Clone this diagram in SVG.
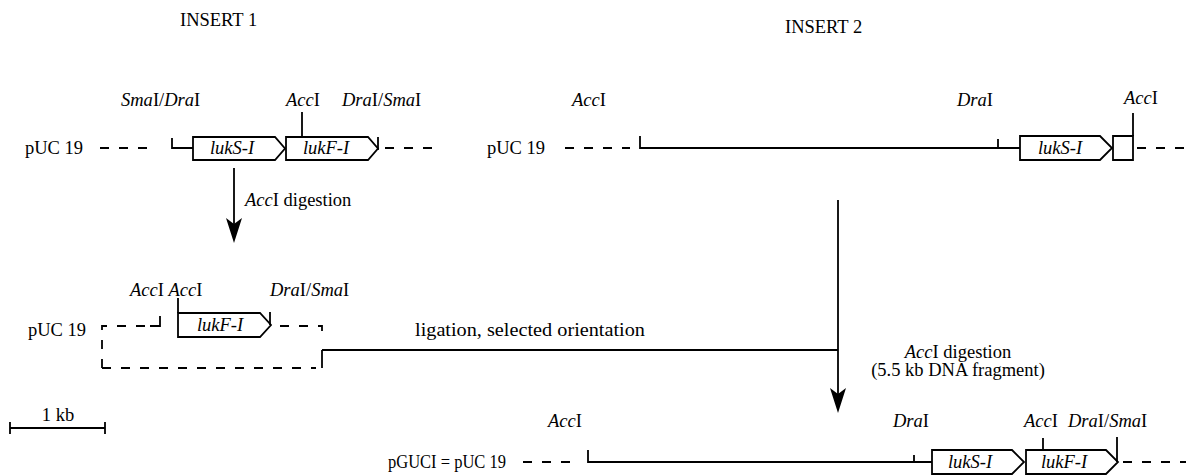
<svg xmlns="http://www.w3.org/2000/svg" width="1186" height="476" viewBox="0 0 1186 476" font-family="'Liberation Serif','Times New Roman',serif">
<defs>
<style>
text{font-family:'Liberation Serif','Times New Roman',serif;font-size:18.5px;fill:#000}
.i{font-style:italic}
.ln{fill:none;stroke:#000;stroke-width:1.8}
.ds{fill:none;stroke:#000;stroke-width:1.8;stroke-dasharray:9 10}
.gene{fill:#fff;stroke:#000;stroke-width:1.8;stroke-linejoin:miter}
.g{font-style:italic;text-anchor:middle}
.head{fill:#000;stroke:none}
</style>
</defs>

<g id="titles">
<text x="180" y="26">INSERT 1</text>
<text x="785" y="33">INSERT 2</text>
</g>

<g id="insert1">
<text x="121" y="106"><tspan class="i">Sma</tspan>I/<tspan class="i">Dra</tspan>I</text>
<text x="286" y="106"><tspan class="i">Acc</tspan>I</text>
<text x="342" y="106"><tspan class="i">Dra</tspan>I/<tspan class="i">Sma</tspan>I</text>
<text x="25" y="154">pUC 19</text>
<path class="ds" d="M100,148 H156"/>
<path class="ln" d="M172,138 V148 H193"/>
<path class="gene" d="M193,137 H275 L285,148.5 L275,160 H193 Z"/>
<path class="gene" d="M286,137 H368 L378,148.5 L368,160 H286 Z"/>
<path class="ln" d="M302,112 V137 M378,137 V150"/>
<path class="ds" d="M385,148 H440"/>
<text class="g" x="232" y="154">lukS-I</text>
<text class="g" x="326" y="154">lukF-I</text>
</g>

<g id="insert2">
<text x="572" y="106"><tspan class="i">Acc</tspan>I</text>
<text x="957" y="106"><tspan class="i">Dra</tspan>I</text>
<text x="1124" y="104"><tspan class="i">Acc</tspan>I</text>
<text x="487" y="154">pUC 19</text>
<path class="ds" d="M565,148 H630"/>
<path class="ln" d="M640,136 V148 H1020 M998,139 V148"/>
<path class="gene" d="M1020,136 H1100 L1112,148 L1100,160 H1020 Z"/>
<path class="gene" d="M1113,136 H1133 V160 H1113 Z"/>
<path class="ln" d="M1133,113 V136"/>
<path class="ds" d="M1137,148 H1186"/>
<text class="g" x="1060" y="154">lukS-I</text>
</g>

<g id="insert1-digested">
<text x="130" y="296"><tspan class="i">Acc</tspan>I <tspan class="i">Acc</tspan>I</text>
<text x="270" y="296"><tspan class="i">Dra</tspan>I/<tspan class="i">Sma</tspan>I</text>
<text x="28" y="336">pUC 19</text>
<path class="ds" d="M102,368 V326 H150"/>
<path class="ln" d="M150,326 H160 V316"/>
<path class="gene" d="M178,313 H260 L271,325 L260,337 H178 Z"/>
<path class="ln" d="M178,298 V313 M270,312 V325"/>
<path class="ds" d="M280,326 H322 V340"/>
<path class="ds" d="M102,368 H316"/>
<path class="ln" d="M322,368 V350"/>
<text class="g" x="220" y="331">lukF-I</text>
</g>

<g id="pGUCI">
<text x="548" y="427"><tspan class="i">Acc</tspan>I</text>
<text x="893" y="427"><tspan class="i">Dra</tspan>I</text>
<text x="1024" y="427"><tspan class="i">Acc</tspan>I</text>
<text x="1068" y="427"><tspan class="i">Dra</tspan>I/<tspan class="i">Sma</tspan>I</text>
<text x="388" y="468" textLength="118" lengthAdjust="spacingAndGlyphs">pGUCI = pUC 19</text>
<path class="ds" d="M523,462 H575"/>
<path class="ln" d="M588,450 V462 H932 M914,455 V462"/>
<path class="gene" d="M932,450 H1012 L1024,462 L1012,474 H932 Z"/>
<path class="gene" d="M1026,450 H1106 L1118,462 L1106,474 H1026 Z"/>
<path class="ln" d="M1043,438 V450 M1117,437 V462"/>
<path class="ds" d="M1123,462 H1186"/>
<text class="g" x="970" y="468">lukS-I</text>
<text class="g" x="1064" y="468">lukF-I</text>
</g>

<g id="scale">
<path class="ln" d="M10,428 H105 M10,422 V434 M105,422 V434"/>
<text x="58" y="421" text-anchor="middle">1 kb</text>
</g>

<g id="connectors">
<path class="ln" d="M234,168 V230"/>
<path class="head" d="M234,243 L226,218 L234,224 L242,218 Z"/>
<text x="245" y="206"><tspan class="i">Acc</tspan>I digestion</text>
<path class="ln" d="M838,200 V400"/>
<path class="head" d="M838,413 L830,388 L838,394 L846,388 Z"/>
<path class="ln" d="M322,350 H838"/>
<text x="415" y="336" textLength="230" lengthAdjust="spacingAndGlyphs">ligation, selected orientation</text>
<text x="958" y="358" text-anchor="middle"><tspan class="i">Acc</tspan>I digestion</text>
<text x="958" y="376" text-anchor="middle">(5.5 kb DNA fragment)</text>
</g>
</svg>
